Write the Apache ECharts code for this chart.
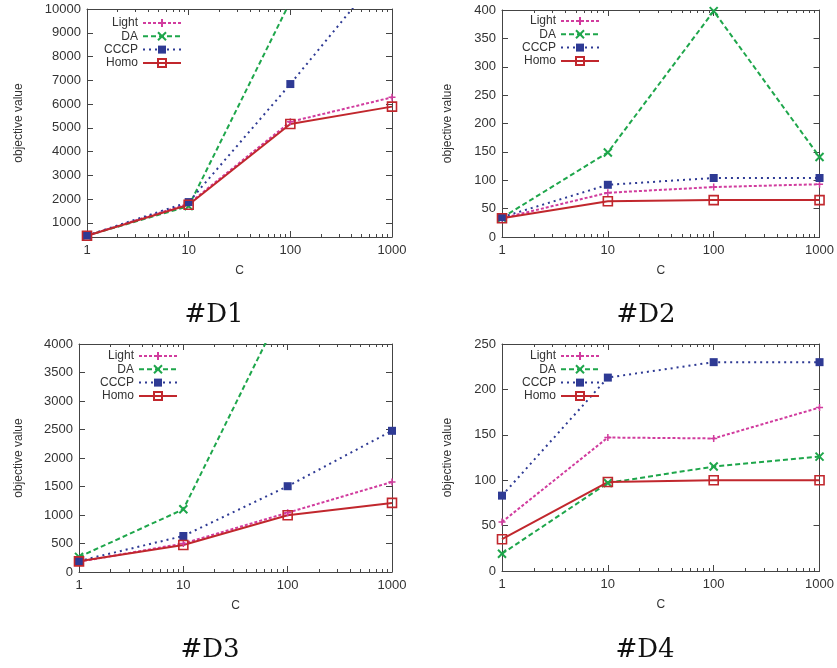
<!DOCTYPE html>
<html>
<head>
<meta charset="utf-8">
<script src="https://cdn.jsdelivr.net/npm/echarts@6/dist/echarts.min.js"></script>
<style>
  html, body { margin: 0; padding: 0; background: #fff; }
  #chart { width: 837px; height: 668px; }
</style>
</head>
<body>
<div id="chart"></div>
<script>
// C values on the x axis (log scale)
const cValues = [1, 10, 100, 1000];
const minorTicks = [2, 3, 4, 5, 6, 7, 8, 9, 20, 30, 40, 50, 60, 70, 80, 90, 200, 300, 400, 500, 600, 700, 800, 900];
const seriesNames = ['Light', 'DA', 'CCCP', 'Homo'];

// #D1
const d1Light = [460, 1800, 5250, 6280];
const d1DA = [460, 1700, 10320, 14000];
const d1CCCP = [460, 1870, 6840, 12050];
const d1Homo = [455, 1755, 5160, 5890];
const d1YTicks = [1000, 2000, 3000, 4000, 5000, 6000, 7000, 8000, 9000, 10000];

// #D2
const d2Light = [33, 78, 88, 93];
const d2DA = [34, 149, 398, 141];
const d2CCCP = [35, 92, 104, 104];
const d2Homo = [33, 63, 65, 65];
const d2YTicks = [0, 50, 100, 150, 200, 250, 300, 350, 400];

// #D3
const d3Light = [180, 500, 1040, 1580];
const d3DA = [265, 1100, 4800, 6500];
const d3CCCP = [193, 632, 1505, 2477];
const d3Homo = [187, 474, 996, 1212];
const d3YTicks = [0, 500, 1000, 1500, 2000, 2500, 3000, 3500, 4000];

// #D4
const d4Light = [54, 147, 146, 180];
const d4DA = [19, 97, 115, 126];
const d4CCCP = [83, 213, 230, 230];
const d4Homo = [35, 98, 100, 100];
const d4YTicks = [0, 50, 100, 150, 200, 250];

const font = 'Liberation Sans';
const axisColor = '#444';
const plain = v => String(v);
const styles = {
    Light: { color: '#d13c9e', type: [3, 2], symbol: 'path://M5,0L5,10M0,5L10,5', size: 7, fill: 'transparent', border: 1.5 },
    DA: { color: '#1ea64b', type: [5, 3], symbol: 'path://M0,0L10,10M10,0L0,10', size: 8, fill: 'transparent', border: 2 },
    CCCP: { color: '#2e3a94', type: [2, 4], symbol: 'rect', size: 8, fill: '#2e3a94', border: 0 },
    Homo: { color: '#c1272d', type: 'solid', symbol: 'rect', size: 9, fill: 'transparent', border: 1.6 }
};

const panels = [
    { title: '#D1', box: { left: 87, top: 9, width: 305, height: 228 }, yMin: 400, yMax: 10000, yTicks: d1YTicks,
      data: [d1Light, d1DA, d1CCCP, d1Homo], nameGap: 62, legend: { left: 98, top: 17 }, titleAt: [209, 297] },
    { title: '#D2', box: { left: 502, top: 10, width: 321, height: 227 }, yMin: 0, yMax: 400, yTicks: d2YTicks,
      data: [d2Light, d2DA, d2CCCP, d2Homo], nameGap: 48, legend: { left: 516, top: 15 }, titleAt: [641, 297] },
    { title: '#D3', box: { left: 79, top: 344, width: 313, height: 228 }, yMin: 0, yMax: 4000, yTicks: d3YTicks,
      data: [d3Light, d3DA, d3CCCP, d3Homo], nameGap: 54, legend: { left: 94, top: 350 }, titleAt: [205, 632] },
    { title: '#D4', box: { left: 502, top: 344, width: 321, height: 227 }, yMin: 0, yMax: 250, yTicks: d4YTicks,
      data: [d4Light, d4DA, d4CCCP, d4Homo], nameGap: 48, legend: { left: 516, top: 350 }, titleAt: [640, 632] }
];

const grid = [], xAxis = [], yAxis = [], series = [], legend = [], title = [];

panels.forEach((p, i) => {
    grid.push(Object.assign({ containLabel: false }, p.box));
    const baseX = { type: 'log', logBase: 10, min: 1, max: 1000, gridIndex: i,
        axisLine: { show: true, lineStyle: { color: axisColor, width: 1 } },
        splitLine: { show: false }, minorTick: { show: false } };
    // bottom major, with labels
    xAxis.push(Object.assign({}, baseX, {
        position: 'bottom', name: 'C', nameLocation: 'middle', nameGap: 28,
        nameTextStyle: { fontFamily: font, fontSize: 12, color: '#333' },
        axisTick: { show: true, inside: true, length: 6, lineStyle: { color: axisColor } },
        axisLabel: { show: true, fontFamily: font, fontSize: 13, color: '#333', margin: 7, formatter: plain }
    }));
    // bottom minor
    xAxis.push(Object.assign({}, baseX, {
        position: 'bottom', axisLine: { show: false },
        axisTick: { show: true, inside: true, length: 3, customValues: minorTicks, lineStyle: { color: axisColor } },
        axisLabel: { show: false }
    }));
    // top major
    xAxis.push(Object.assign({}, baseX, {
        position: 'top',
        axisTick: { show: true, inside: true, length: 6, lineStyle: { color: axisColor } },
        axisLabel: { show: false }
    }));
    // top minor
    xAxis.push(Object.assign({}, baseX, {
        position: 'top', axisLine: { show: false },
        axisTick: { show: true, inside: true, length: 3, customValues: minorTicks, lineStyle: { color: axisColor } },
        axisLabel: { show: false }
    }));
    const baseY = { type: 'value', min: p.yMin, max: p.yMax, gridIndex: i,
        axisLine: { show: true, lineStyle: { color: axisColor, width: 1 } },
        splitLine: { show: false } };
    yAxis.push(Object.assign({}, baseY, {
        position: 'left', name: 'objective value', nameLocation: 'middle', nameGap: p.nameGap, nameRotate: 90,
        nameTextStyle: { fontFamily: font, fontSize: 12, color: '#333' },
        axisTick: { show: true, inside: true, length: 6, customValues: p.yTicks, lineStyle: { color: axisColor } },
        axisLabel: { show: true, customValues: p.yTicks, fontFamily: font, fontSize: 13, color: '#333', margin: 6, formatter: plain }
    }));
    yAxis.push(Object.assign({}, baseY, {
        position: 'right',
        axisTick: { show: true, inside: true, length: 6, customValues: p.yTicks, lineStyle: { color: axisColor } },
        axisLabel: { show: false }
    }));

    seriesNames.forEach((name, k) => {
        const s = styles[name];
        series.push({
            name: name, type: 'line', xAxisIndex: i * 4, yAxisIndex: i * 2,
            data: cValues.map((c, j) => [c, p.data[k][j]]),
            symbol: s.symbol, symbolSize: s.size, showAllSymbol: true,
            lineStyle: { color: s.color, width: 2, type: s.type },
            itemStyle: { color: s.fill, borderColor: s.color, borderWidth: s.border },
            emphasis: { disabled: true },
            animation: false
        });
    });

    legend.push({
        orient: 'vertical', left: p.legend.left, top: p.legend.top, align: 'right',
        itemWidth: 38, itemHeight: 10, itemGap: 1.3, padding: 0,
        data: seriesNames,
        textStyle: { fontFamily: font, fontSize: 12, color: '#333', width: 40, align: 'right', lineHeight: 12 }
    });

    title.push({
        text: p.title, left: p.titleAt[0], top: p.titleAt[1], textAlign: 'center',
        textStyle: { fontFamily: 'DejaVu Serif', fontSize: 26, fontWeight: 'normal', color: '#111' }
    });
});

const chart = echarts.init(document.getElementById('chart'));
chart.setOption({
    animation: false,
    backgroundColor: '#fff',
    title: title,
    legend: legend,
    grid: grid,
    xAxis: xAxis,
    yAxis: yAxis,
    series: series
});
</script>
</body>
</html>
